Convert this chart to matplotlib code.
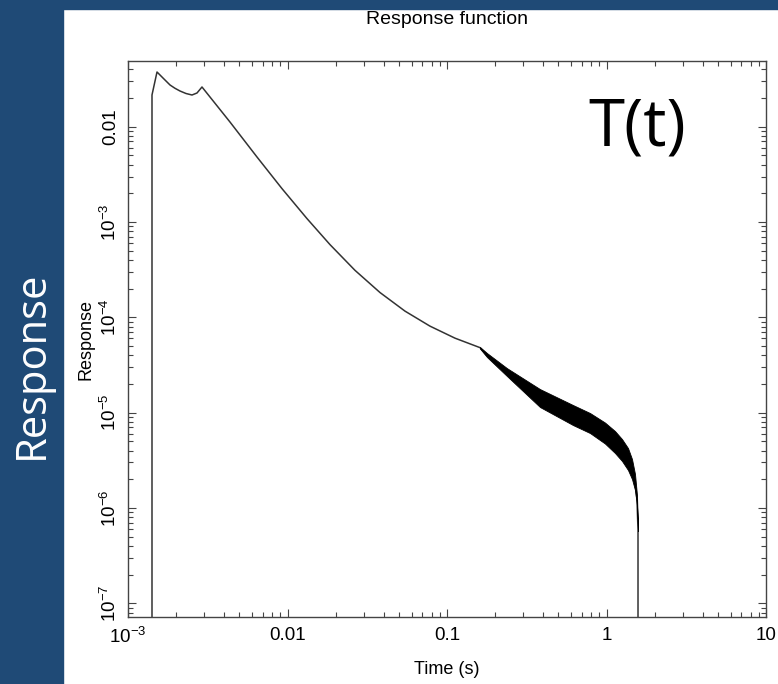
import matplotlib
matplotlib.use("Agg")
import matplotlib.pyplot as plt
from matplotlib.patches import Rectangle

# curve (time in s, response)
time = [0.001414, 0.001414, 0.001520, 0.001669, 0.001834, 0.001971, 0.002118, 0.002310,
        0.002519, 0.002708, 0.002910, 0.004359, 0.006438, 0.009238, 0.01325, 0.01847,
        0.02649, 0.03802, 0.05453, 0.07821, 0.1122, 0.1610, 0.1781, 0.2377, 0.3829,
        0.6166, 0.7883, 0.9786, 1.1306, 1.2509, 1.364, 1.445, 1.509, 1.553, 1.576, 1.576]
response = [1e-9, 0.02153, 0.03750, 0.03204, 0.02739, 0.02529, 0.02369, 0.02230,
            0.02151, 0.02258, 0.02610, 0.01120, 0.004809, 0.002239, 0.001086, 0.0005792,
            0.0003113, 0.0001820, 0.0001162, 8.085e-5, 6.048e-5, 4.81e-5, 4.021e-5, 2.667e-5, 1.422e-5,
            9.437e-6, 7.780e-6, 6.107e-6, 4.914e-6, 4.052e-6, 3.260e-6, 2.560e-6, 1.870e-6, 1.210e-6,
            5.86e-7, 1e-9]

# noisy band after the kink near 0.17 s
band_time = [0.1610, 0.1781, 0.2377, 0.3829, 0.6166, 0.7883, 0.9786, 1.1306, 1.2509,
             1.364, 1.445, 1.509, 1.553, 1.576]
band_low = [4.70e-5, 3.83e-5, 2.42e-5, 1.145e-5, 7.41e-6, 6.11e-6, 4.74e-6, 3.77e-6, 3.11e-6,
            2.50e-6, 2.01e-6, 1.54e-6, 1.07e-6, 5.72e-7]
band_high = [4.88e-5, 4.22e-5, 2.93e-5, 1.767e-5, 1.202e-5, 9.91e-6, 7.87e-6, 6.41e-6, 5.28e-6,
             4.25e-6, 3.26e-6, 2.27e-6, 1.36e-6, 6.0e-7]

xticks = [1e-3, 1e-2, 1e-1, 1, 10]
xlabels = [r"$10^{-3}$", "0.01", "0.1", "1", "10"]
yticks = [1e-7, 1e-6, 1e-5, 1e-4, 1e-3, 1e-2]
ylabels = [r"$10^{-7}$", r"$10^{-6}$", r"$10^{-5}$", r"$10^{-4}$", r"$10^{-3}$", "0.01"]

plt.rcParams["font.family"] = ["Liberation Sans", "DejaVu Sans"]
plt.rcParams["mathtext.fontset"] = "custom"
plt.rcParams["mathtext.rm"] = "Liberation Sans"
plt.rcParams["mathtext.it"] = "Liberation Sans"

fig = plt.figure(figsize=(7.78, 6.84), dpi=100, facecolor="white")
blue = "#1f4a76"
fig.patches.append(Rectangle((0, 0), 63 / 778, 1, transform=fig.transFigure, color=blue, zorder=0))
fig.patches.append(Rectangle((0, 1 - 9 / 684), 1, 9 / 684, transform=fig.transFigure, color=blue, zorder=0))

ax = fig.add_axes([128 / 778, 67 / 684, 638 / 778, 556 / 684])
ax.plot(time, response, color="#333333", lw=1.1, zorder=2)
ax.fill_between(band_time, band_low, band_high, color="black", lw=0.6, edgecolor="black", zorder=3)

ax.set_xscale("log")
ax.set_yscale("log")
ax.set_xlim(1e-3, 10)
ax.set_ylim(7.18e-8, 0.0489)
ax.set_xticks(xticks, xlabels)
ax.set_yticks(yticks, ylabels)
ax.tick_params(which="both", direction="in", top=True, right=True, width=0.8, color="#444444",
               labelsize=13.5)
ax.tick_params(which="major", length=6)
ax.tick_params(which="minor", length=3.5)
ax.tick_params(axis="x", pad=7)
ax.tick_params(axis="y", labelrotation=90, pad=6)
for lab in ax.get_yticklabels():
    lab.set_verticalalignment("center")
for s in ax.spines.values():
    s.set_color("#444444")
    s.set_linewidth(1.0)

ax.set_xlabel("Time (s)", fontsize=13, labelpad=10)
ax.set_ylabel("Response", fontsize=13, labelpad=4)
fig.text(447 / 778, 1 - 19 / 684, "Response function", fontsize=14, ha="center", va="center")

fig.text(588 / 778, 1 - 145 / 684, "T(t)", fontsize=47, family="Open Sans", ha="left", va="baseline")
fig.text(32 / 778, 1 - 365 / 684, "Response", fontsize=30, family="Open Sans", color="white",
         rotation=90, ha="center", va="center")

fig.savefig("out.png", dpi=100, facecolor="white")
